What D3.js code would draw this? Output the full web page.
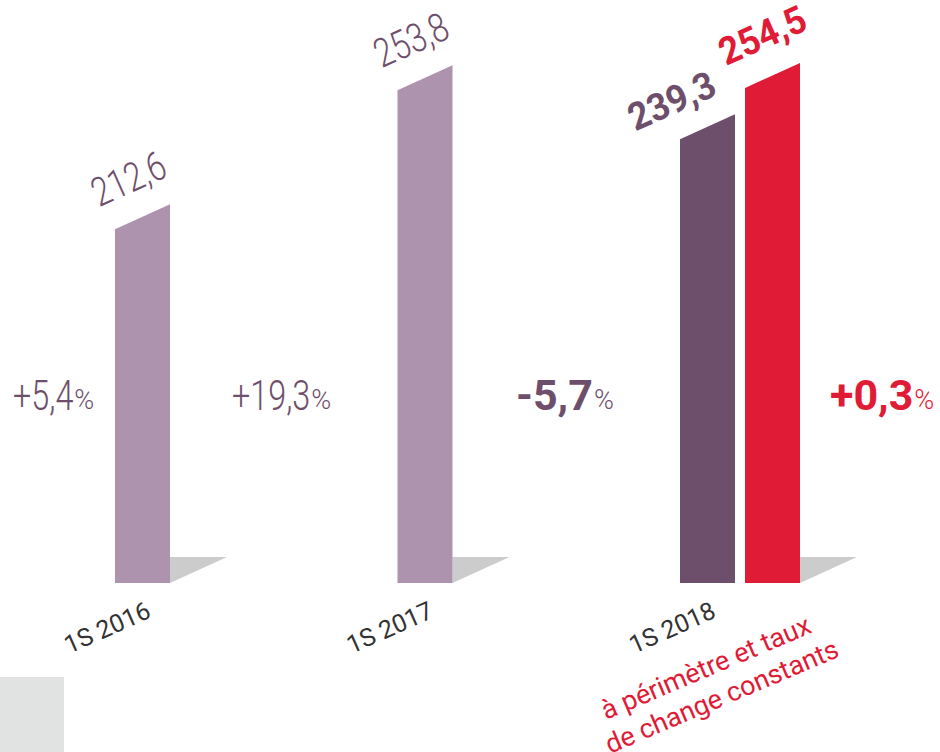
<!DOCTYPE html>
<html lang="fr">
<head>
<meta charset="UTF-8">
<title>CA 1S</title>
<script src="https://d3js.org/d3.v7.min.js"></script>
<style>
  body { margin: 0; background: #fff; }
  svg { display: block; }
</style>
</head>
<body>
<div id="chart"></div>
<script>
// half-year revenue (bars) and growth rates
const categories = ["1S 2016", "1S 2017", "1S 2018"];
const values = [212.6, 253.8, 239.3];
const valueLabels = ["212,6", "253,8", "239,3"];
const constantValue = [254.5];
const constantLabel = ["254,5"];
const growthLabels = ["+5,4", "+19,3", "-5,7", "+0,3"];
const footnote = ["à périmètre et taux", "de change constants"];

const width = 940, height = 752;
const light = "#ad93ad", dark = "#6e4f6b", red = "#e01b36", shadow = "#cccccc";
const font = "Roboto, 'Open Sans', sans-serif";
const angle = -24;
const narrow = 0.8;   // the original face is a condensed one

const svg = d3.select("#chart").append("svg")
    .attr("width", width).attr("height", height);

const base = 583, barW = 55, slant = 25;
const x = d3.scalePoint().domain(categories).range([115, 680]);
const y = d3.scaleLinear().domain([107.6, 254.5]).range([base, 88]);

// bars: one per category + the constant-scope bar next to 2018
const bars = values.map((v, i) => ({
    x: x(categories[i]), value: v, label: valueLabels[i],
    fill: i === 2 ? dark : light, bold: i === 2, last: i !== 2
}));
bars.push({ x: x(categories[2]) + 65, value: constantValue[0], label: constantLabel[0],
    fill: red, bold: true, last: true });

// grey floor shadows
svg.append("g").selectAll("path")
    .data(bars.filter(d => d.last))
    .join("path")
    .attr("d", d => `M${d.x + barW},${base - 26}L${d.x + barW + 57},${base - 26}L${d.x + barW},${base}Z`)
    .attr("fill", shadow);

svg.append("g").selectAll("path")
    .data(bars)
    .join("path")
    .attr("d", d => `M${d.x},${base}L${d.x},${y(d.value)}L${d.x + barW},${y(d.value) - slant}L${d.x + barW},${base}Z`)
    .attr("fill", d => d.fill);

// value labels, tilted like the bar tops
svg.append("g").selectAll("text")
    .data(bars)
    .join("text")
    .attr("transform", (d, i) => i === 2
        ? `translate(${d.x + barW - 16},${y(d.value) - slant - 20}) rotate(${angle}) scale(0.95,1)`
        : `translate(${d.x - (d.bold ? 19 : 16)},${y(d.value) - 22}) rotate(${angle}) scale(${d.bold ? 0.95 : narrow},1)`)
    .attr("text-anchor", (d, i) => i === 2 ? "end" : "start")
    .attr("font-family", font)
    .attr("font-weight", d => d.bold ? 700 : 300)
    .attr("font-size", d => d.bold ? 38 : 40)
    .attr("fill", d => d.fill === red ? red : dark)
    .text(d => d.label);

// growth rates: number + smaller %
const pctX = [13, 232, 516, 830];
const pct = svg.append("g").selectAll("g")
    .data(growthLabels)
    .join("g")
    .attr("fill", (d, i) => i === 3 ? red : dark);
pct.append("text")
    .attr("class", "num")
    .attr("transform", (d, i) => `translate(${pctX[i]},410) scale(${i >= 2 ? 1 : 0.77},1)`)
    .attr("font-family", font)
    .attr("font-weight", (d, i) => i >= 2 ? 700 : 300)
    .attr("font-size", (d, i) => i >= 2 ? 43 : 42)
    .text(d => d);
pct.each(function(d, i) {
    const g = d3.select(this);
    const w = g.select(".num").node().getComputedTextLength() * (i >= 2 ? 1 : 0.77);
    g.append("text")
        .attr("transform", `translate(${pctX[i] + w + 1},409)`)
        .attr("font-family", font)
        .attr("font-weight", 300)
        .attr("font-size", 27)
        .text("%");
});

// category labels
svg.append("g").selectAll("text")
    .data(categories)
    .join("text")
    .attr("transform", d => `translate(${x(d) - 46},654) rotate(${angle})`)
    .attr("font-family", font)
    .attr("font-weight", 400)
    .attr("font-size", 25)
    .attr("fill", "#333333")
    .text(d => d);

svg.append("g").selectAll("text")
    .data(footnote)
    .join("text")
    .attr("transform", (d, i) => `translate(${606 + i * 4},${720 + i * 34}) rotate(-23)`)
    .attr("font-family", font)
    .attr("font-size", 27)
    .attr("fill", red)
    .text(d => d);

// grey corner block
svg.append("rect")
    .attr("x", 0).attr("y", 677).attr("width", 64).attr("height", 75)
    .attr("fill", "#e1e3e2");
</script>
</body>
</html>
